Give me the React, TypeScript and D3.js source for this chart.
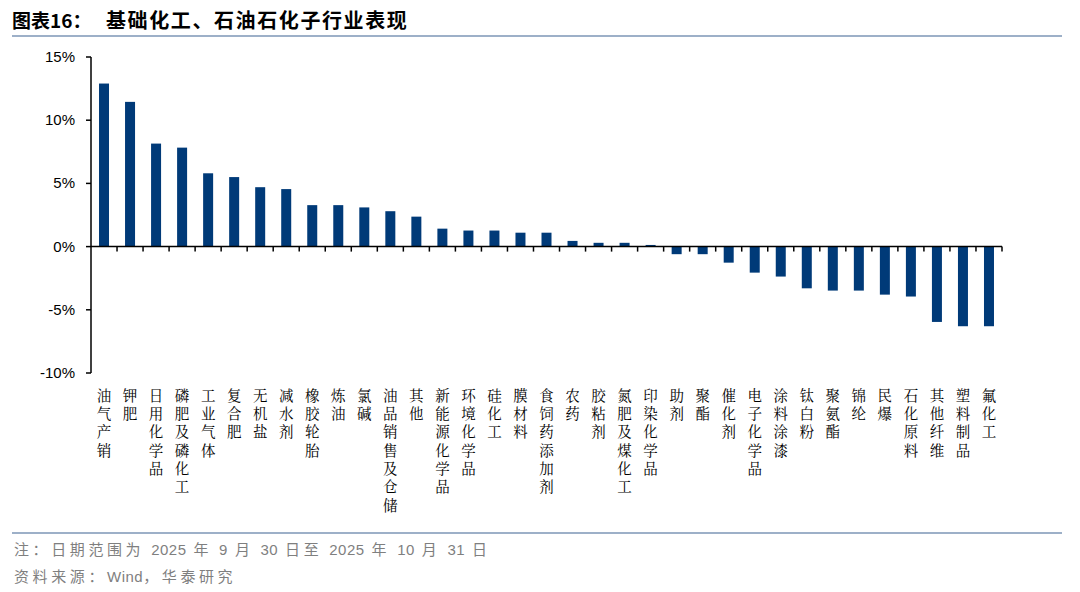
import React from "react";
import * as d3 from "d3";

const categories = ["油气产销","钾肥","日用化学品","磷肥及磷化工","工业气体","复合肥","无机盐","减水剂","橡胶轮胎","炼油","氯碱","油品销售及仓储","其他","新能源化学品","环境化学品","硅化工","膜材料","食饲药添加剂","农药","胶粘剂","氮肥及煤化工","印染化学品","助剂","聚酯","催化剂","电子化学品","涂料涂漆","钛白粉","聚氨酯","锦纶","民爆","石化原料","其他纤维","塑料制品","氟化工"];
const values = [12.9,11.45,8.15,7.83,5.8,5.5,4.7,4.55,3.28,3.28,3.1,2.8,2.37,1.42,1.27,1.27,1.1,1.1,0.45,0.3,0.3,0.13,-0.6,-0.6,-1.27,-2.06,-2.37,-3.3,-3.48,-3.48,-3.8,-3.95,-5.96,-6.3,-6.3];
const yTicks = [15,10,5,0,-5,-10];

export default function App() {
  const W = 1080, H = 592;
  const left = 91, right = 1002, top = 57, bottom = 373;
  const x = d3.scaleBand<string>().domain(categories).range([left, right]).paddingInner(0).paddingOuter(0);
  const y = d3.scaleLinear().domain([-10, 15]).range([bottom, top]);
  const bw = 10;
  const font = "Arial, 'Liberation Sans', sans-serif";
  const cjk = "'Noto Sans CJK SC', sans-serif";
  const serifCjk = "'Noto Serif CJK SC', 'Noto Sans CJK SC', serif";
  const num = (s: string) => <tspan fontFamily={font} letterSpacing={0.5}>{s}</tspan>;
  return (
    <svg width={W} height={H} style={{ position: "absolute", left: 0, top: 0, background: "#fff" }}>
      <text x={12} y={28} fontFamily={cjk} fontWeight="bold" fontSize={19} fill="#000">图表16：</text>
      <text x={106} y={28} fontFamily={cjk} fontWeight="bold" fontSize={20} letterSpacing={1.6} fill="#000">基础化工、石油石化子行业表现</text>
      <line x1={12} x2={1062} y1={36} y2={36} stroke="#9db0c8" strokeWidth={2} />
      {categories.map((c, i) => {
        const v = values[i];
        const cx = (x(c) as number) + x.bandwidth() / 2;
        return <rect key={c} x={cx - bw / 2} y={y(Math.max(0, v))} width={bw} height={Math.abs(y(v) - y(0))} fill="#003a78" />;
      })}
      <line x1={left} x2={left} y1={top} y2={bottom} stroke="#000" strokeWidth={1.5} />
      {yTicks.map(t => (
        <g key={t}>
          <line x1={left - 5} x2={left} y1={y(t)} y2={y(t)} stroke="#000" strokeWidth={1.5} />
          <text x={left - 16} y={y(t) + 5} textAnchor="end" fontFamily={font} fontSize={15} fill="#000">{t}%</text>
        </g>
      ))}
      <line x1={left} x2={right} y1={y(0)} y2={y(0)} stroke="#000" strokeWidth={1.5} />
      {categories.map((c, i) => (
        <line key={"t" + i} x1={(x(c) as number) + x.bandwidth()} x2={(x(c) as number) + x.bandwidth()} y1={y(0)} y2={y(0) + 5} stroke="#000" strokeWidth={1.5} />
      ))}
      {categories.map(c => {
        const cx = (x(c) as number) + x.bandwidth() / 2;
        return (
          <text key={"l" + c} x={cx} y={388} fontFamily={serifCjk} fontSize={14.5} letterSpacing={3.8} fill="#000" textAnchor="start" style={{ writingMode: "vertical-rl" }}>{c}</text>
        );
      })}
      <line x1={12} x2={1062} y1={533} y2={533} stroke="#9db0c8" strokeWidth={2} />
      <text x={14} y={555} fontFamily={cjk} fontSize={15} letterSpacing={3.6} fill="#7f7f7f">注：日期范围为 {num("2025")} 年 {num("9")} 月 {num("30")} 日至 {num("2025")} 年 {num("10")} 月 {num("31")} 日</text>
      <text x={14} y={582} fontFamily={cjk} fontSize={15} letterSpacing={3.6} fill="#7f7f7f">资料来源：{num("Wind")}，华泰研究</text>
    </svg>
  );
}
